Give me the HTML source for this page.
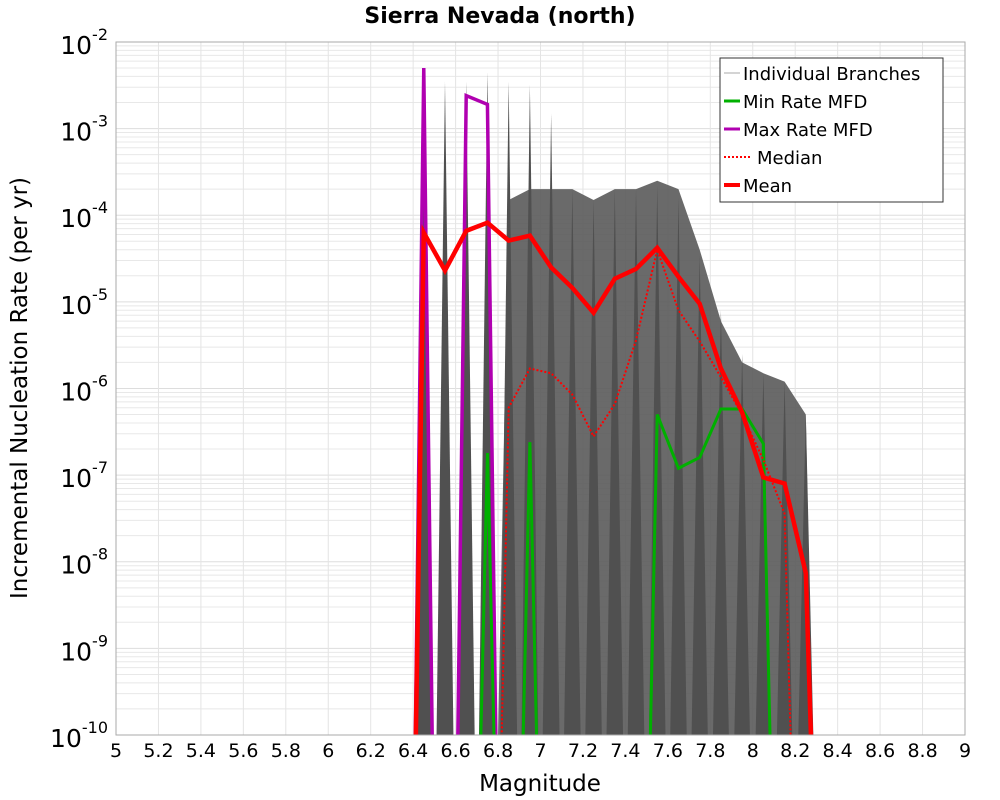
<!DOCTYPE html>
<html><head><meta charset="utf-8"><style>
html,body{margin:0;background:#fff;overflow:hidden;width:1000px;height:800px}
svg{display:block}
svg text{font-family:"DejaVu Sans","Liberation Sans",sans-serif}
</style></head><body>
<svg id="chart" width="1000" height="800" xmlns="http://www.w3.org/2000/svg">
<defs><clipPath id="clip"><rect x="116" y="42" width="849" height="693"/></clipPath></defs>
<text x="500" y="23" text-anchor="middle" font-size="22" font-weight="bold">Sierra Nevada (north)</text>
<g id="grid"></g>
<g id="series" clip-path="url(#clip)"></g>
<rect x="116" y="42" width="849" height="693" fill="none" stroke="#aaa" stroke-width="1"/>
<g id="axes"></g>
<text x="540" y="791" text-anchor="middle" font-size="23">Magnitude</text>
<text transform="translate(27,388) rotate(-90)" text-anchor="middle" font-size="23">Incremental Nucleation Rate (per yr)</text>
<g>
<rect x="720" y="58" width="223" height="144" fill="#fff" stroke="#333" stroke-width="1"/>
<line x1="724" y1="73" x2="740" y2="73" stroke="#aaa" stroke-width="1"/><text x="743" y="80" font-size="18">Individual Branches</text>
<line x1="724" y1="101" x2="740" y2="101" stroke="#00b000" stroke-width="3"/><text x="743" y="108" font-size="18">Min Rate MFD</text>
<line x1="724" y1="129" x2="740" y2="129" stroke="#b000b0" stroke-width="3"/><text x="743" y="136" font-size="18">Max Rate MFD</text>
<line x1="724" y1="157" x2="752" y2="157" stroke="#f00" stroke-width="2" stroke-dasharray="2,2"/><text x="757" y="164" font-size="18">Median</text>
<line x1="724" y1="185" x2="740" y2="185" stroke="#f00" stroke-width="4"/><text x="743" y="192" font-size="18">Mean</text>
</g>
</svg>
<script>
const xTicks=[5,5.2,5.4,5.6,5.8,6,6.2,6.4,6.6,6.8,7,7.2,7.4,7.6,7.8,8,8.2,8.4,8.6,8.8,9];
const yExps=[-2,-3,-4,-5,-6,-7,-8,-9,-10];
const bins=[6.45,6.55,6.65,6.75,6.85,6.95,7.05,7.15,7.25,7.35,7.45,7.55,7.65,7.75,7.85,7.95,8.05,8.15,8.25];
const spikeTop=[5e-3,3.5e-3,3.5e-3,4.5e-3,3.5e-3,3.2e-3,1.5e-3,2e-4,1.5e-4,2e-4,2e-4,2.2e-4,1.6e-4,3.5e-5,8e-6,2.5e-6,1.5e-6,1.2e-6,5e-7];
const bodyTop=[1e-9,1e-9,1e-9,1e-9,1.5e-4,2e-4,2e-4,2e-4,1.5e-4,2e-4,2e-4,2.5e-4,2e-4,4e-5,6e-6,2e-6,1.5e-6,1.2e-6,5e-7];
const meanM=[6.40,6.45,6.55,6.65,6.75,6.85,6.95,7.05,7.15,7.25,7.35,7.45,7.55,7.65,7.75,7.85,7.95,8.05,8.15,8.25,8.30];
const meanV=[1e-12,6.3e-5,2.3e-5,6.6e-5,8.2e-5,5.1e-5,5.8e-5,2.5e-5,1.45e-5,7.5e-6,1.85e-5,2.4e-5,4.2e-5,1.95e-5,9.5e-6,1.7e-6,5.3e-7,9.4e-8,8e-8,7.4e-9,1e-12];
const medM=[6.80,6.85,6.95,7.05,7.15,7.25,7.35,7.45,7.55,7.65,7.75,7.85,7.95,8.05,8.15,8.20];
const medV=[1e-12,6e-7,1.7e-6,1.5e-6,8.5e-7,2.8e-7,6.6e-7,3.6e-6,4e-5,8e-6,3.5e-6,1.35e-6,5e-7,1.5e-7,3.6e-8,1e-12];
const minM=[6.70,6.75,6.80,6.90,6.95,7.00,7.50,7.55,7.65,7.75,7.85,7.95,8.05,8.10];
const minV=[1e-12,1.8e-7,1e-12,1e-12,2.4e-7,1e-12,1e-12,5e-7,1.2e-7,1.6e-7,5.8e-7,5.8e-7,2.3e-7,1e-12];
const maxM=[6.40,6.45,6.50,6.60,6.65,6.75,6.80];
const maxV=[1e-12,5e-3,1e-12,1e-12,2.4e-3,1.9e-3,1e-12];

const NS="http://www.w3.org/2000/svg";
const X=m=>116+(m-5)*212.25;
const Y=v=>735-(Math.log10(v)+10)*86.63;
function mk(tag,attrs,parent){const e=document.createElementNS(NS,tag);for(const k in attrs)e.setAttribute(k,attrs[k]);parent.appendChild(e);return e;}
const grid=document.getElementById('grid'),axes=document.getElementById('axes'),ser=document.getElementById('series');
for(let e=-10;e<-2;e++){for(let k=2;k<10;k++){const l=mk('line',{x1:116,x2:965,y1:Y(k*Math.pow(10,e)),y2:Y(k*Math.pow(10,e)),stroke:'#e8e8e8','stroke-width':1},grid);

}}
yExps.forEach(e=>{const y=Y(Math.pow(10,e));
const l=mk('line',{x1:116,x2:965,y1:y,y2:y,stroke:'#ddd','stroke-width':1},grid);


const t=mk('text',{x:108,y:y+12,'text-anchor':'end','font-size':25},axes);


t.textContent='10';
const s=mk('tspan',{dy:-14,'font-size':16},t);s.textContent=String(e);});
xTicks.forEach(m=>{const x=X(m);
const l=mk('line',{x1:x,x2:x,y1:42,y2:735,stroke:'#e4e4e4','stroke-width':1},grid);


const t=mk('text',{x:x,y:757,'text-anchor':'middle','font-size':19},axes);


t.textContent=String(m);});
let bp=`M${X(6.80)},${Y(1e-10)}`;
bins.forEach((m,i)=>{if(m>=6.85)bp+=` L${X(m)},${Y(bodyTop[i])}`;});
bp+=` L${X(8.28)},${Y(1e-10)} Z`;
const body=mk('path',{d:bp,fill:'#5a5a5a','fill-opacity':0.9},ser);


bins.forEach((m,i)=>{const p=mk('path',{d:`M${X(m-0.045)},${Y(1e-11)} L${X(m)},${Y(spikeTop[i])} L${X(m+0.045)},${Y(1e-11)} Z`,fill:'#505050'},ser);

});
function line(ms,vs,attrs,name){const d=ms.map((m,i)=>(i?'L':'M')+X(m)+','+Y(vs[i])).join(' ');
const p=mk('path',Object.assign({d:d,fill:'none','stroke-linejoin':'miter'},attrs),ser);

}
line(maxM,maxV,{stroke:'#b000b0','stroke-width':3.5},'max-rate-line');
line(minM,minV,{stroke:'#00b000','stroke-width':3},'min-rate-line');
line(medM,medV,{stroke:'#f00','stroke-width':2,'stroke-dasharray':'2,2'},'median-line');
line(meanM,meanV,{stroke:'#f00','stroke-width':4.5},'mean-line');
</script>
</body></html>
